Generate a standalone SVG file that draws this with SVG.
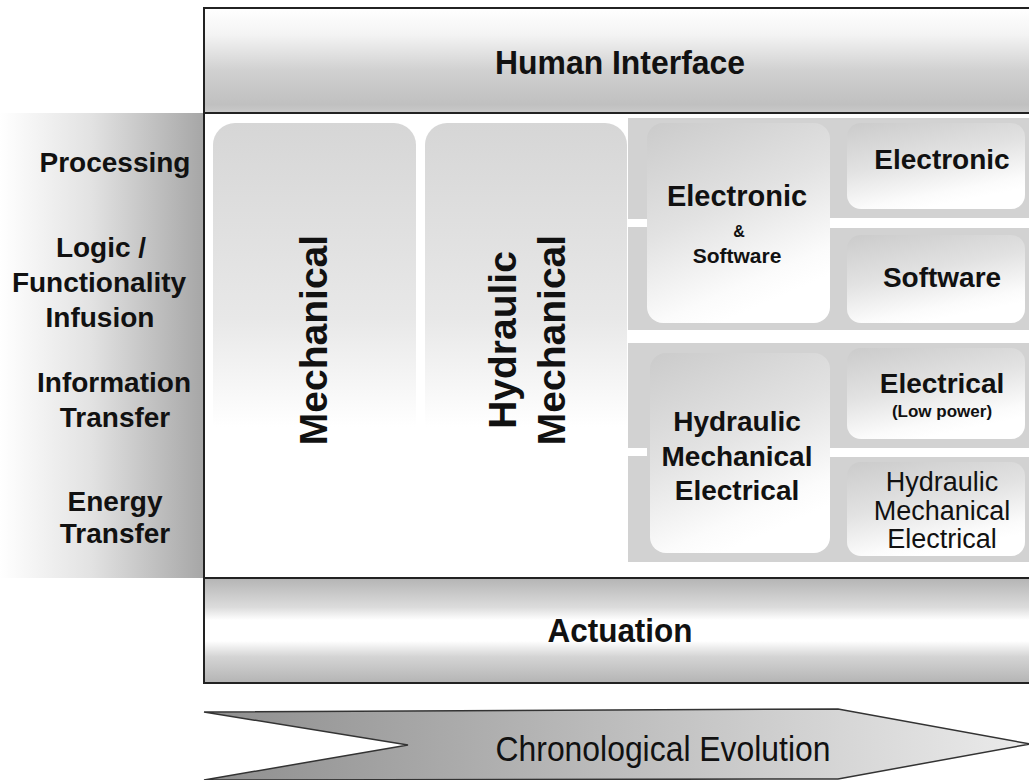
<svg xmlns="http://www.w3.org/2000/svg" width="1029" height="780" viewBox="0 0 1029 780">
<defs>
<linearGradient id="gLeft" x1="0" y1="0" x2="1" y2="0">
<stop offset="0" stop-color="#ffffff"/>
<stop offset="0.45" stop-color="#e2e2e2"/>
<stop offset="1" stop-color="#a6a6a6"/>
</linearGradient>
<linearGradient id="gTop" x1="0" y1="0" x2="0" y2="1">
<stop offset="0" stop-color="#ffffff"/>
<stop offset="0.25" stop-color="#f4f4f4"/>
<stop offset="0.6" stop-color="#d0d0d0"/>
<stop offset="0.92" stop-color="#c0c0c0"/>
<stop offset="1" stop-color="#cacaca"/>
</linearGradient>
<linearGradient id="gAct" x1="0" y1="0" x2="0" y2="1">
<stop offset="0" stop-color="#b4b4b4"/>
<stop offset="0.28" stop-color="#dcdcdc"/>
<stop offset="0.4" stop-color="#ffffff"/>
<stop offset="0.6" stop-color="#ffffff"/>
<stop offset="0.75" stop-color="#d4d4d4"/>
<stop offset="1" stop-color="#b4b4b4"/>
</linearGradient>
<linearGradient id="gCol" x1="0" y1="0" x2="0" y2="1">
<stop offset="0" stop-color="#d6d6d6"/>
<stop offset="0.45" stop-color="#e8e8e8"/>
<stop offset="0.7" stop-color="#ffffff"/>
<stop offset="1" stop-color="#ffffff"/>
</linearGradient>
<linearGradient id="gBox" x1="0" y1="0" x2="0.4" y2="1">
<stop offset="0" stop-color="#cbcbcb"/>
<stop offset="0.5" stop-color="#e2e2e2"/>
<stop offset="0.88" stop-color="#fbfbfb"/>
<stop offset="1" stop-color="#ffffff"/>
</linearGradient>
<linearGradient id="gArrow" x1="0" y1="0" x2="1" y2="0">
<stop offset="0" stop-color="#8e8e8e"/>
<stop offset="0.5" stop-color="#bdbdbd"/>
<stop offset="1" stop-color="#ebebeb"/>
</linearGradient>
<style>
.t{font-family:"Liberation Sans",Arial,Helvetica,sans-serif;fill:#111;text-anchor:middle}
.b{font-weight:bold}
.frame{fill:none;stroke:#222;stroke-width:2}
.bg{fill:#d2d2d2}
.gap{fill:#ffffff}
</style>
</defs>

<rect width="1029" height="780" fill="#ffffff"/>

<g id="left-axis">
<rect x="0" y="113" width="204" height="465" fill="url(#gLeft)"/>
<text class="t b" x="115" y="172" font-size="28">Processing</text>
<text class="t b" x="101" y="257" font-size="28">Logic /</text>
<text class="t b" x="99" y="292" font-size="28">Functionality</text>
<text class="t b" x="100" y="327" font-size="28">Infusion</text>
<text class="t b" x="114" y="392" font-size="28">Information</text>
<text class="t b" x="115" y="427" font-size="28">Transfer</text>
<text class="t b" x="115" y="511" font-size="28">Energy</text>
<text class="t b" x="115" y="543" font-size="28">Transfer</text>
</g>

<g id="human-interface">
<rect x="204" y="8" width="830" height="105" fill="url(#gTop)"/>
<rect x="204" y="8" width="830" height="105" class="frame"/>
<text class="t b" x="620" y="74" font-size="33" textLength="250" lengthAdjust="spacingAndGlyphs">Human Interface</text>
</g>

<g id="middle-area">
<rect x="204" y="113" width="830" height="465" fill="#ffffff"/>
</g>

<g id="mechanical">
<rect x="213" y="123" width="203" height="434" rx="22" fill="url(#gCol)"/>
<text class="t b" font-size="39" transform="translate(327,340) rotate(-90)">Mechanical</text>
</g>

<g id="hydraulic-mechanical">
<rect x="425" y="123" width="202" height="434" rx="22" fill="url(#gCol)"/>
<text class="t b" font-size="39" transform="translate(516,340) rotate(-90)">Hydraulic</text>
<text class="t b" font-size="39" transform="translate(565,340) rotate(-90)">Mechanical</text>
</g>

<g id="upper-group-bg">
<rect x="628" y="118" width="406" height="212" class="bg"/>
<rect x="628" y="219" width="19" height="8" class="gap"/>
<rect x="830" y="218" width="204" height="10" class="gap"/>
</g>

<g id="electronic-software">
<rect x="647" y="123" width="183" height="200" rx="16" fill="url(#gBox)"/>
<text class="t b" x="737" y="206" font-size="29">Electronic</text>
<text class="t b" x="739" y="237" font-size="16">&amp;</text>
<text class="t b" x="737" y="263" font-size="21">Software</text>
</g>

<g id="electronic">
<rect x="847" y="123" width="178" height="86" rx="14" fill="url(#gBox)"/>
<text class="t b" x="942" y="169" font-size="28">Electronic</text>
</g>

<g id="software">
<rect x="847" y="235" width="178" height="88" rx="14" fill="url(#gBox)"/>
<text class="t b" x="942" y="287" font-size="28">Software</text>
</g>

<g id="lower-group-bg">
<rect x="628" y="343" width="406" height="219" class="bg"/>
<rect x="628" y="448" width="19" height="8" class="gap"/>
<rect x="830" y="448" width="204" height="9" class="gap"/>
</g>

<g id="hydraulic-mechanical-electrical">
<rect x="650" y="353" width="180" height="200" rx="16" fill="url(#gBox)"/>
<text class="t b" x="737" y="431" font-size="28">Hydraulic</text>
<text class="t b" x="737" y="466" font-size="28">Mechanical</text>
<text class="t b" x="737" y="500" font-size="28">Electrical</text>
</g>

<g id="electrical">
<rect x="847" y="348" width="178" height="91" rx="14" fill="url(#gBox)"/>
<text class="t b" x="942" y="393" font-size="28">Electrical</text>
<text class="t b" x="942" y="417" font-size="17">(Low power)</text>
</g>

<g id="hme-right">
<rect x="847" y="462" width="178" height="94" rx="14" fill="url(#gBox)"/>
<text class="t" x="942" y="491" font-size="27">Hydraulic</text>
<text class="t" x="942" y="520" font-size="27">Mechanical</text>
<text class="t" x="942" y="548" font-size="27">Electrical</text>
</g>

<g id="middle-frame">
<rect x="204" y="113" width="830" height="465" class="frame"/>
</g>

<g id="actuation">
<rect x="204" y="578" width="830" height="105" fill="url(#gAct)"/>
<rect x="204" y="578" width="830" height="105" class="frame"/>
<text class="t b" x="620" y="642" font-size="33" textLength="145" lengthAdjust="spacingAndGlyphs">Actuation</text>
</g>

<g id="chronological-evolution">
<polygon points="204,712 838,709 1030,744 838,779 204,780 408,745" fill="url(#gArrow)" stroke="#333" stroke-width="1.5"/>
<text class="t" x="663" y="761" font-size="35" textLength="335" lengthAdjust="spacingAndGlyphs">Chronological Evolution</text>
</g>

<g id="connectors"/>
</svg>
